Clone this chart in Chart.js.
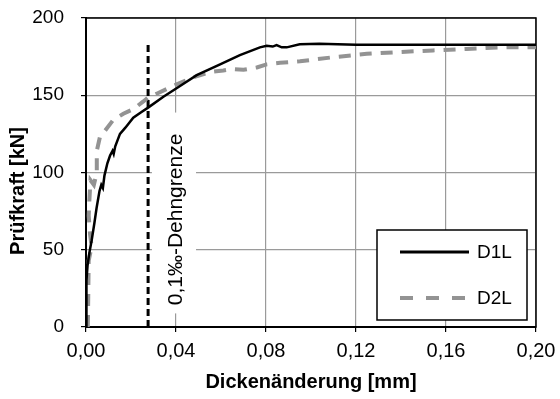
<!DOCTYPE html>
<html>
<head>
<meta charset="utf-8">
<script src="https://cdn.jsdelivr.net/npm/chart.js@4.4.1/dist/chart.umd.min.js"></script>
<style>
  html, body { margin: 0; padding: 0; background: #fff; }
  #wrap { width: 560px; height: 399px; position: relative; }
</style>
</head>
<body>
<div id="wrap"><canvas id="chart"></canvas></div>
<script>
const d1lX = [0, 0.0002, 0.0007, 0.0015, 0.0025, 0.0037, 0.0047, 0.0060, 0.0068, 0.0075, 0.0082, 0.0095, 0.0107, 0.0118, 0.0123, 0.0130, 0.0151, 0.0175, 0.0210, 0.0245, 0.0276, 0.0344, 0.0418, 0.0492, 0.0596, 0.0684, 0.0773, 0.0803, 0.0830, 0.0847, 0.0870, 0.0892, 0.0950, 0.1037, 0.1200, 0.2000];
const d1lY = [0, 30, 40, 48, 56, 67, 77, 88, 92, 90, 98, 106, 111, 114, 112, 117, 125, 129, 135.5, 139, 142, 149, 156, 163, 170, 176, 181, 182, 181.5, 182.5, 181, 181, 183, 183.3, 182.7, 182.7];

const d2lX = [0.0008, 0.0010, 0.0012, 0.0025, 0.0018, 0.0012, 0.0015, 0.0020, 0.0035, 0.0048, 0.0048, 0.0062, 0.0084, 0.0121, 0.0166, 0.0210, 0.0255, 0.0276, 0.0314, 0.0403, 0.0476, 0.0551, 0.0610, 0.0653, 0.0700, 0.0759, 0.0803, 0.0862, 0.0951, 0.1098, 0.1248, 0.1396, 0.1542, 0.1692, 0.1840, 0.2000];
const d2lY = [0, 20, 43, 52, 60, 72, 82, 95, 92, 100, 114, 123, 127, 134, 138, 141, 146, 148.5, 151, 157, 161.6, 165, 166, 167, 166.5, 168, 170, 171, 172, 174.6, 176.8, 178, 179, 180, 181, 181];

const limitX = [0.0276, 0.0276];
const limitY = [0, 184];

const xTicks = [0, 0.04, 0.08, 0.12, 0.16, 0.20];
const yTicks = [0, 50, 100, 150, 200];

const seriesNames = ['D1L', 'D2L'];
const limitLabel = '0,1‰-Dehngrenze';
const xTitle = 'Dickenänderung [mm]';
const yTitle = 'Prüfkraft [kN]';

// Textfeld der Dehngrenze in Datenkoordinaten
const labelBoxX = [0.0293, 0.0489];
const labelBoxY = [8.8, 138.8];
const labelCenter = { x: 0.04, y: 69.6 };

const FONT = '"Liberation Sans", Arial, sans-serif';

function toPts(xs, ys) {
  return xs.map((x, i) => ({ x: x, y: ys[i] }));
}

const extras = {
  id: 'extras',
  beforeDatasetsDraw(chart) {
    const { ctx, chartArea: a, scales: { x, y } } = chart;
    ctx.save();
    // Rahmen oben/rechts
    ctx.strokeStyle = '#000';
    ctx.lineWidth = 1.5;
    ctx.strokeRect(a.left, a.top, a.right - a.left, a.bottom - a.top);

    // Textfeld Dehngrenze
    const bx1 = x.getPixelForValue(labelBoxX[0]), bx2 = x.getPixelForValue(labelBoxX[1]);
    const by1 = y.getPixelForValue(labelBoxY[1]), by2 = y.getPixelForValue(labelBoxY[0]);
    ctx.fillStyle = '#fff';
    ctx.fillRect(bx1, by1, bx2 - bx1, by2 - by1);
    ctx.translate(x.getPixelForValue(labelCenter.x), y.getPixelForValue(labelCenter.y));
    ctx.rotate(-Math.PI / 2);
    ctx.fillStyle = '#000';
    ctx.font = '21px ' + FONT;
    ctx.textAlign = 'center';
    ctx.textBaseline = 'middle';
    ctx.fillText(limitLabel, 0, 0);
    ctx.restore();

    // y-Achsentitel (sitzt etwas unterhalb der Mitte)
    ctx.save();
    ctx.translate(18, 191);
    ctx.rotate(-Math.PI / 2);
    ctx.fillStyle = '#000';
    ctx.font = 'bold 20px ' + FONT;
    ctx.textAlign = 'center';
    ctx.textBaseline = 'middle';
    ctx.fillText(yTitle, 0, 0);
    ctx.restore();
  },
  afterDatasetsDraw(chart) {
    const { ctx, chartArea: a } = chart;
    ctx.save();
    const l = a.right - 159, t = a.bottom - 97, w = 150, h = 90;
    ctx.fillStyle = '#fff';
    ctx.fillRect(l, t, w, h);
    ctx.strokeStyle = '#000';
    ctx.lineWidth = 1.5;
    ctx.strokeRect(l, t, w, h);

    ctx.lineWidth = 3;
    ctx.strokeStyle = '#000';
    ctx.beginPath();
    ctx.moveTo(l + 23, t + 22); ctx.lineTo(l + 92, t + 22);
    ctx.stroke();

    ctx.lineWidth = 4;
    ctx.strokeStyle = '#939393';
    ctx.setLineDash([13, 13]);
    ctx.beginPath();
    ctx.moveTo(l + 23, t + 68); ctx.lineTo(l + 92, t + 68);
    ctx.stroke();
    ctx.setLineDash([]);

    ctx.fillStyle = '#000';
    ctx.font = '19px ' + FONT;
    ctx.textAlign = 'left';
    ctx.textBaseline = 'middle';
    ctx.fillText(seriesNames[0], l + 100, t + 23);
    ctx.fillText(seriesNames[1], l + 100, t + 69);
    ctx.restore();
  }
};

new Chart(document.getElementById('chart'), {
  type: 'line',
  data: {
    datasets: [
      { label: seriesNames[0], data: toPts(d1lX, d1lY), borderColor: '#000', borderWidth: 2.5, pointRadius: 0, tension: 0 },
      { label: seriesNames[1], data: toPts(d2lX, d2lY), borderColor: '#939393', borderWidth: 4, borderDash: [12, 9], pointRadius: 0, tension: 0 },
      { label: 'Dehngrenze', data: toPts(limitX, limitY), borderColor: '#000', borderWidth: 3, borderDash: [7, 4], pointRadius: 0 }
    ]
  },
  options: {
    responsive: true,
    maintainAspectRatio: false,
    animation: false,
    layout: { padding: { top: 18, right: 24, left: 0, bottom: 0 } },
    plugins: {
      legend: { display: false },
      tooltip: { enabled: false }
    },
    scales: {
      x: {
        type: 'linear',
        min: 0,
        max: 0.2,
        afterBuildTicks: s => { s.ticks = xTicks.map(v => ({ value: v })); },
        afterFit: s => { s.height = 72; s.paddingLeft = 0; s.paddingRight = 0; },
        ticks: {
          color: '#000',
          font: { family: FONT, size: 20 },
          padding: 7,
          maxRotation: 0,
          callback: v => v.toFixed(2).replace('.', ',')
        },
        grid: { color: '#9a9a9a', lineWidth: 1.2, tickColor: '#000', tickLength: 5 },
        border: { color: '#000', width: 2 },
        title: {
          display: true,
          text: xTitle,
          color: '#000',
          font: { family: FONT, size: 20, weight: 'bold' },
          padding: { top: 0, bottom: 5 }
        }
      },
      y: {
        min: 0,
        max: 200,
        afterBuildTicks: s => { s.ticks = yTicks.map(v => ({ value: v })); },
        afterFit: s => { s.width = 86; s.paddingTop = 0; s.paddingBottom = 0; },
        ticks: {
          color: '#000',
          font: { family: FONT, size: 19 },
          padding: 17
        },
        grid: { color: '#9a9a9a', lineWidth: 1.2, tickColor: '#000', tickLength: 5 },
        border: { color: '#000', width: 2 },
        title: { display: false }
      }
    }
  },
  plugins: [extras]
});
</script>
</body>
</html>
